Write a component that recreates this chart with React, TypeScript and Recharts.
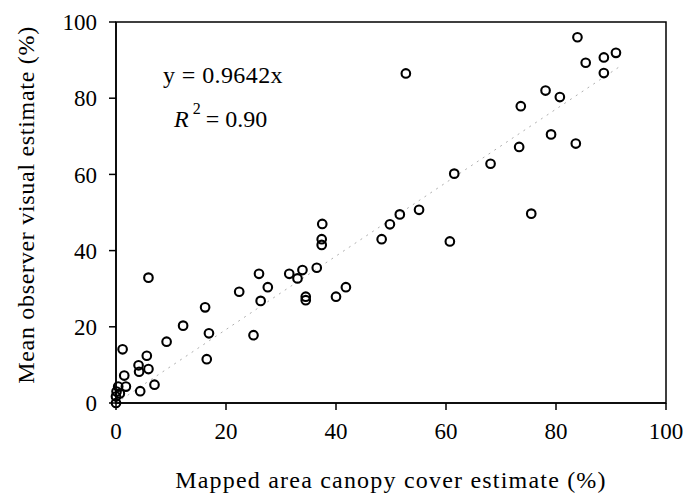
import { ScatterChart, Scatter, XAxis, YAxis, ReferenceArea, ReferenceLine, Label } from "recharts";

const mappedCover = [
  83.9, 85.4, 88.7, 90.9, 88.7, 52.7, 78.1, 80.7, 73.6, 79.1, 83.6, 73.3, 68.1, 61.5,
  55.1, 51.6, 49.8, 48.3, 75.5, 60.7, 37.5, 37.4, 37.4, 36.5, 33.9, 31.5, 33.0, 41.8,
  40.0, 34.5, 34.5, 26.0, 27.6, 26.3, 22.4, 16.2, 16.9, 25.0, 16.5, 12.2, 9.2, 5.9,
  5.6, 4.1, 5.9, 4.2, 7.0, 4.4, 1.2, 1.5, 1.8, 0.4, 0.7, 0.1, 0.0, 0.0,
];
const observerEstimate = [
  96.0, 89.3, 90.7, 91.9, 86.6, 86.5, 82.0, 80.3, 77.9, 70.5, 68.1, 67.2, 62.8, 60.2,
  50.7, 49.5, 46.9, 43.0, 49.7, 42.4, 47.0, 43.0, 41.5, 35.5, 34.9, 33.9, 32.7, 30.4,
  27.9, 27.9, 27.0, 33.9, 30.4, 26.8, 29.2, 25.1, 18.3, 17.8, 11.5, 20.3, 16.1, 32.9,
  12.4, 9.9, 8.9, 8.2, 4.8, 3.1, 14.1, 7.2, 4.3, 4.3, 2.5, 3.0, 1.7, 0.0,
];
const axisTicks = [0, 20, 40, 60, 80, 100];
const slope = 0.9642;
const fitEnd = 92;

const points = mappedCover.map((x, i) => ({ x, y: observerEstimate[i] }));
const font = "'Liberation Serif', 'DejaVu Serif', serif";

const OpenCircle = (props: any) => (
  <circle cx={props.cx} cy={props.cy} r={4.3} fill="none" stroke="#000" strokeWidth={2.1} />
);

export default function App() {
  return (
    <div style={{ position: "absolute", left: 0, top: 0, width: 688, height: 498, background: "#fff" }}>
      <ScatterChart width={688} height={498} margin={{ top: 22, right: 22, left: 0, bottom: 0 }}>
        <XAxis
          type="number" dataKey="x" domain={[0, 100]} ticks={axisTicks} height={95}
          axisLine={{ stroke: "#000", strokeWidth: 1.5 }} tickLine={{ stroke: "#000", strokeWidth: 1.5 }}
          tickSize={7} tickMargin={13}
          tick={{ fill: "#000", fontSize: 23, fontFamily: font }}
        >
          <Label content={() => (
            <text x={391} y={480} textAnchor="middle" dominantBaseline="central" fontSize={24} letterSpacing={1.2} fontFamily={font} fill="#000">
              Mapped area canopy cover estimate (%)
            </text>
          )} />
        </XAxis>
        <YAxis
          type="number" dataKey="y" domain={[0, 100]} ticks={axisTicks} width={116}
          axisLine={{ stroke: "#000", strokeWidth: 1.5 }} tickLine={{ stroke: "#000", strokeWidth: 1.5 }}
          tickSize={7} tickMargin={12}
          tick={{ fill: "#000", fontSize: 23, fontFamily: font }}
        >
          <Label content={() => (
            <text x={26} y={205} transform="rotate(-90 26 205)" textAnchor="middle" dominantBaseline="central" fontSize={24} letterSpacing={0.7} fontFamily={font} fill="#000">
              Mean observer visual estimate (%)
            </text>
          )} />
        </YAxis>
        <ReferenceArea x1={0} x2={100} y1={0} y2={100} fill="none" stroke="#000" strokeWidth={1.5} ifOverflow="visible" />
        <ReferenceLine
          segment={[{ x: 0, y: 0 }, { x: fitEnd, y: slope * fitEnd }]}
          stroke="#b0b0b0" strokeWidth={1} strokeDasharray="2 5"
        />
        <Scatter data={points} shape={OpenCircle} isAnimationActive={false} />
      </ScatterChart>
      <svg width={688} height={498} style={{ position: "absolute", left: 0, top: 0, pointerEvents: "none" }}>
        <text x={163} y={83} fontSize={24} letterSpacing={0.4} fontFamily={font} fill="#000">y = 0.9642x</text>
        <text x={174} y={127} fontSize={24} fontFamily={font} fill="#000">
          <tspan fontStyle="italic">R</tspan>
          <tspan dx={4} dy={-13} fontSize={16}>2</tspan>
          <tspan dx={5} dy={13}>= 0.90</tspan>
        </text>
      </svg>
    </div>
  );
}
